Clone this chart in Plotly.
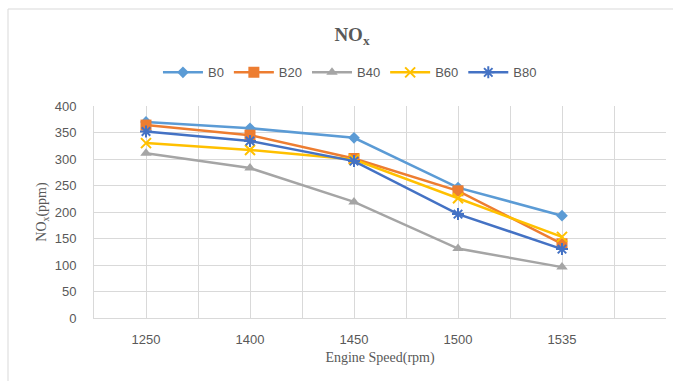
import plotly.graph_objects as go

speeds = ["1250", "1400", "1450", "1500", "1535"]
series_names = ["B0", "B20", "B40", "B60", "B80"]
B0 = [370, 358, 340, 246, 193]
B20 = [364, 345, 301, 240, 140]
B40 = [311, 283, 219, 131, 96]
B60 = [330, 317, 299, 226, 153]
B80 = [352, 334, 296, 196, 130]

colors = ["#5B9BD5", "#ED7D31", "#A5A5A5", "#FFC000", "#4472C4"]
symbols = ["diamond", "square", "triangle-up", "x-thin", "asterisk"]
sizes = [9, 11, 10, 10, 10]
values = [B0, B20, B40, B60, B80]

xpos = list(range(len(speeds)))

fig = go.Figure()
for name, vals, c, s, sz in zip(series_names, values, colors, symbols, sizes):
    lw = 2 if s in ("x-thin", "asterisk") else 0
    fig.add_trace(go.Scatter(
        x=xpos, y=vals, name=name, mode="lines+markers",
        line=dict(color=c, width=2.5),
        marker=dict(symbol=s, size=sz, color=c, line=dict(color=c, width=lw)),
    ))

minor_vals = [i - 0.5 for i in range(len(speeds) + 1)]

fig.update_layout(
    width=673, height=381,
    margin=dict(l=94, r=7, t=106, b=63),
    paper_bgcolor="white", plot_bgcolor="white",
    title=dict(text="<b>NO<sub>x</sub></b>", x=0.523, xanchor="center", xref="container",
               y=0.91, yanchor="middle", yref="container",
               font=dict(family="Liberation Serif", size=19, color="#595959")),
    legend=dict(orientation="h", x=0.52, xanchor="center", xref="container",
                y=0.81, yanchor="middle", yref="container",
                font=dict(family="Liberation Sans", size=13, color="#595959"),
                itemwidth=40, tracegroupgap=0),
    showlegend=True,
    xaxis=dict(range=[-0.5, 5.0], tickmode="array", tickvals=xpos, ticktext=speeds,
               showgrid=True, gridcolor="#D9D9D9", gridwidth=1, zeroline=False,
               minor=dict(tickmode="array", tickvals=minor_vals, showgrid=True,
                          gridcolor="#D9D9D9", gridwidth=1, ticks=""),
               ticks="", showline=True, linecolor="#D9D9D9", linewidth=1,
               ticklabelstandoff=9,
               tickfont=dict(family="Liberation Sans", size=13, color="#595959"),
               title=dict(text="Engine Speed(rpm)", standoff=6,
                          font=dict(family="Liberation Serif", size=14, color="#595959"))),
    yaxis=dict(range=[0, 400], dtick=50, tick0=0,
               showgrid=True, gridcolor="#D9D9D9", gridwidth=1, zeroline=False,
               ticks="", showline=True, linecolor="#D9D9D9", linewidth=1,
               ticklabelstandoff=14,
               tickfont=dict(family="Liberation Sans", size=13, color="#595959"),
               title=dict(text="NO<sub>x</sub>(ppm)", standoff=4,
                          font=dict(family="Liberation Serif", size=14, color="#595959"))),
)

# chart frame (top and left edges)
fig.add_shape(type="line", xref="paper", yref="paper",
              x0=(8 - 94) / 572, x1=(673 - 94) / 572, y0=(318 - 9) / 212, y1=(318 - 9) / 212,
              line=dict(color="#D9D9D9", width=1))
fig.add_shape(type="line", xref="paper", yref="paper",
              x0=(8 - 94) / 572, x1=(8 - 94) / 572, y0=(318 - 9) / 212, y1=(318 - 381) / 212,
              line=dict(color="#D9D9D9", width=1))

fig.write_html("out.html")
